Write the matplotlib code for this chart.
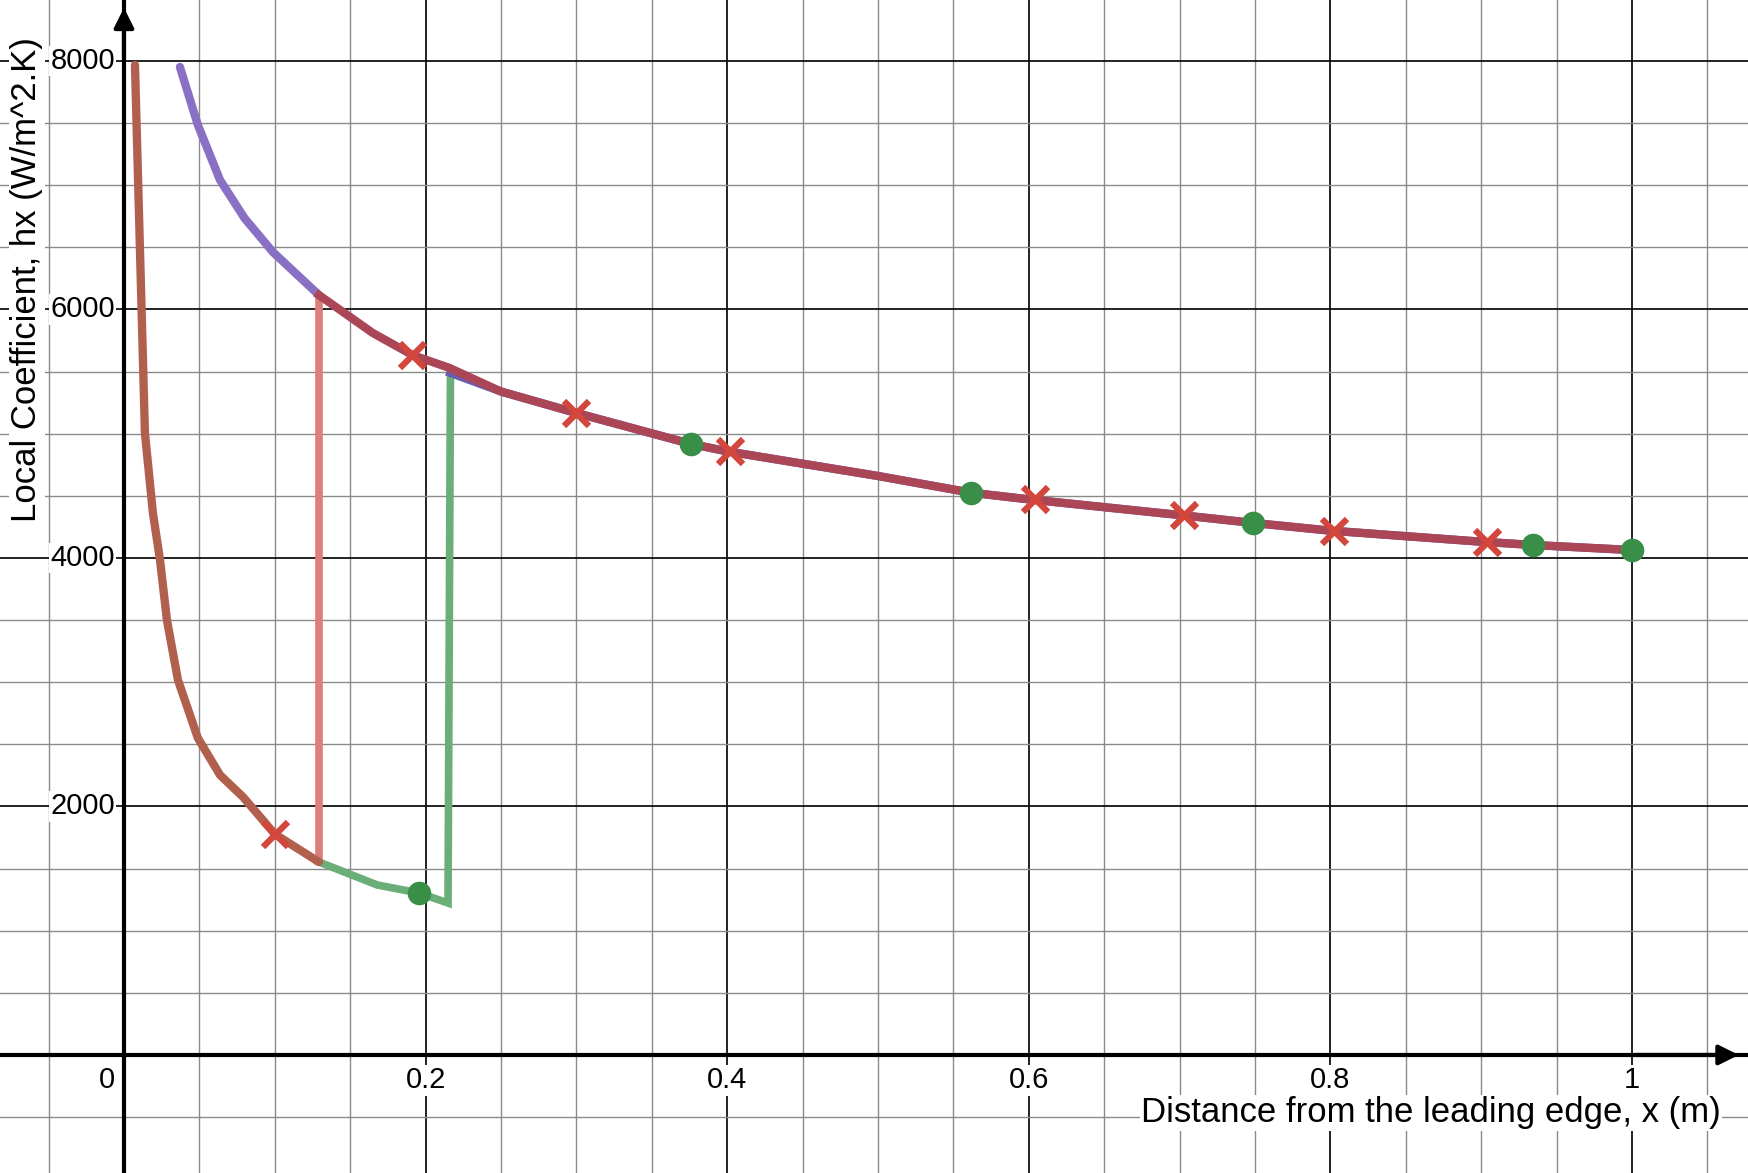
# %%
import matplotlib
matplotlib.use("Agg")
import matplotlib.pyplot as plt
import numpy as np

plt.rcParams["font.family"] = ["Liberation Sans", "DejaVu Sans"]

# %%
# laminar curve near the leading edge
x_lam = [0.0073, 0.0139, 0.0192, 0.0239, 0.0285, 0.0358, 0.049, 0.0637, 0.079, 0.1, 0.1293]
h_lam = [7968, 5006, 4362, 3984, 3501, 3018, 2551, 2253, 2076, 1778, 1553]

# turbulent curve before the pink jump
x_turb0 = [0.0371, 0.049, 0.0637, 0.08, 0.0988, 0.1293]
h_turb0 = [7952, 7485, 7042, 6734, 6462, 6116]

# turbulent curve after the jump
x_turb = [0.1293, 0.165, 0.1912, 0.216, 0.25, 0.3, 0.375, 0.4, 0.5, 0.562,
          0.6, 0.7, 0.748, 0.8, 0.9, 0.935, 1.0]
h_turb = [6116, 5811, 5634, 5529, 5340, 5167, 4921, 4858, 4660, 4525,
          4472, 4346, 4283, 4220, 4131, 4104, 4064]

# blue-ish line starting at the green jump, under the red one
x_blue = [0.2165, 0.251, 0.3, 0.375, 0.4, 0.5, 0.562, 0.6, 0.7, 0.748, 0.8, 0.9, 0.935, 1.0]
h_blue = [5489, 5336, 5167, 4921, 4858, 4660, 4525, 4472, 4346, 4283, 4220, 4131, 4104, 4064]

# green laminar continuation and jump
x_green = [0.1293, 0.168, 0.1956, 0.2149, 0.2165]
h_green = [1553, 1368, 1304, 1223, 5489]

# pink vertical jump
x_pink = [0.1293, 0.1293]
h_pink = [1553, 6116]

# markers
x_cross = [0.1, 0.1912, 0.2996, 0.402, 0.604, 0.7027, 0.8025, 0.9036]
h_cross = [1778, 5634, 5163, 4858, 4472, 4346, 4220, 4131]
x_dot = [0.1955, 0.3757, 0.562, 0.7485, 0.9346, 1.0]
h_dot = [1304, 4921, 4525, 4283, 4104, 4064]

x_ticks = [0.2, 0.4, 0.6, 0.8, 1.0]
x_tick_labels = ["0.2", "0.4", "0.6", "0.8", "1"]
y_ticks = [2000, 4000, 6000, 8000]
y_tick_labels = ["2000", "4000", "6000", "8000"]

# %%
fig = plt.figure(figsize=(17.49, 11.73), dpi=100)
ax = fig.add_axes([0, 0, 1, 1])
xmin, xmax = -0.0822, 1.0776
ymin, ymax = -950, 8491
ax.set_xlim(xmin, xmax)
ax.set_ylim(ymin, ymax)
for s in ax.spines.values():
    s.set_visible(False)
ax.set_xticks([])
ax.set_yticks([])

# grid
for gx in np.arange(-0.05, 1.08, 0.05):
    major = abs(gx / 0.2 - round(gx / 0.2)) < 1e-6
    ax.axvline(gx, color="#111111" if major else "#8a8a8a",
               lw=1.3 if major else 1.0, zorder=0)
for gy in np.arange(-500, 8500, 500):
    major = gy % 2000 == 0
    ax.axhline(gy, color="#111111" if major else "#8a8a8a",
               lw=1.3 if major else 1.0, zorder=0)

# axes with arrows
ax.axhline(0, color="k", lw=3, zorder=1)
ax.axvline(0, color="k", lw=3, zorder=1)
ax.annotate("", xy=(0, ymax - 40), xytext=(0, 8000),
            arrowprops=dict(arrowstyle="-|>", color="k", lw=3, mutation_scale=30))
ax.annotate("", xy=(xmax - 0.005, 0), xytext=(1.0, 0),
            arrowprops=dict(arrowstyle="-|>", color="k", lw=3, mutation_scale=30))

# tick labels
bb = dict(facecolor="white", edgecolor="none", pad=1)
for t, lab in zip(y_ticks, y_tick_labels):
    ax.text(-0.006, t, lab, ha="right", va="center", fontsize=21, bbox=bb, zorder=2)
for t, lab in zip(x_ticks, x_tick_labels):
    ax.text(t, -90, lab, ha="center", va="top", fontsize=21, bbox=bb, zorder=2)
ax.text(-0.006, -90, "0", ha="right", va="top", fontsize=21, bbox=bb, zorder=2)

ax.text(-0.0645, 6240, "Local Coefficient, hx (W/m^2.K)", rotation=90,
        ha="center", va="center", fontsize=25, bbox=bb, zorder=2)
ax.text(1.059, -465, "Distance from the leading edge, x (m)",
        ha="right", va="center", fontsize=25, bbox=bb, zorder=2)

# curves
lw = 6
ax.plot(x_pink, h_pink, color="#dc7f7a", lw=5.5, solid_capstyle="butt", zorder=3)
ax.plot(x_green, h_green, color="#6aae78", lw=5.5, solid_joinstyle="miter", zorder=3)
ax.plot(x_lam, h_lam, color="#b2604e", lw=lw, solid_capstyle="round", zorder=4)
ax.plot(x_turb0, h_turb0, color="#8a70c4", lw=lw, solid_capstyle="round", zorder=4)
ax.plot(x_blue, h_blue, color="#6a5cb0", lw=lw, zorder=4)
ax.plot(x_turb, h_turb, color="#aa4656", lw=lw, zorder=5)

ax.plot(x_cross, h_cross, ls="", marker="x", color="#d2463c", ms=18, mew=4.5, zorder=6)
ax.plot(x_dot, h_dot, ls="", marker="o", color="#3a8f48", ms=17, mew=0, zorder=6)

fig.savefig("out.png", dpi=100)
